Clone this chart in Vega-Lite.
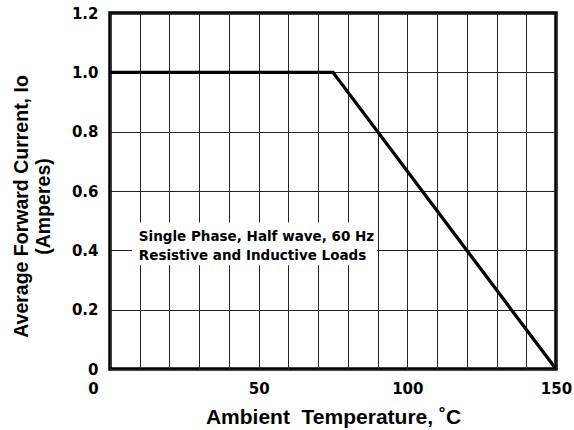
{
  "$schema": "https://vega.github.io/schema/vega-lite/v6.json",
  "width": 446,
  "height": 356,
  "autosize": {"type": "none"},
  "padding": {"left": 110, "top": 13, "right": 18, "bottom": 61},
  "background": "white",
  "config": {
    "view": {"stroke": "black", "strokeWidth": 3.5},
    "axis": {
      "grid": true,
      "gridColor": "#222",
      "gridWidth": 1,
      "domain": false,
      "ticks": false,
      "labelOverlap": false,
      "labelFont": "DejaVu Sans",
      "labelFontWeight": "bold",
      "labelFontSize": 15,
      "labelColor": "black",
      "titleFont": "Liberation Sans, Arial, sans-serif",
      "titleFontWeight": "bold",
      "titleFontSize": 20,
      "titleColor": "black"
    }
  },
  "layer": [
    {
      "data": {"values": [
        {"temp": 0, "current": 1.0},
        {"temp": 75, "current": 1.0},
        {"temp": 150, "current": 0.0}
      ]},
      "mark": {"type": "line", "color": "black", "strokeWidth": 3.3, "clip": true},
      "encoding": {
        "x": {
          "field": "temp", "type": "quantitative",
          "scale": {"domain": [0, 150], "nice": false},
          "axis": {
            "values": [0, 10, 20, 30, 40, 50, 60, 70, 80, 90, 100, 110, 120, 130, 140, 150],
            "tickCount": 30,
            "labelExpr": "datum.value % 50 == 0 ? datum.label : ''",
            "labelPadding": 12,
            "labelBaseline": "top",
            "labelFlush": false,
            "labelOffset": {"condition": {"test": "datum.value == 0", "value": -17}, "value": 0},
            "title": "Ambient\u00a0 Temperature, ˚C",
            "titleFontSize": 21,
            "titleX": 223,
            "titleY": 54,
            "titleAlign": "center",
            "titleBaseline": "alphabetic"
          }
        },
        "y": {
          "field": "current", "type": "quantitative",
          "scale": {"domain": [0, 1.2], "nice": false},
          "axis": {
            "values": [0, 0.2, 0.4, 0.6, 0.8, 1.0, 1.2],
            "tickCount": 20,
            "labelExpr": "datum.value == 0 ? '0' : format(datum.value, '.1f')",
            "labelPadding": 12,
            "labelFlush": false,
            "title": ["Average Forward Current, Io", "(Amperes)"],
            "titleFontSize": 19.5,
            "titleAngle": -90,
            "titleX": -83,
            "titleY": 193,
            "titleAlign": "center",
            "titleBaseline": "alphabetic",
            "titleLineHeight": 22
          }
        }
      }
    },
    {
      "data": {"values": [{"note": "Single Phase, Half wave, 60 Hz"}]},
      "mark": {"type": "rect", "fill": "white", "stroke": null},
      "encoding": {
        "x": {"datum": 7.4, "type": "quantitative"},
        "x2": {"datum": 89.8},
        "y": {"datum": 0.494, "type": "quantitative"},
        "y2": {"datum": 0.35}
      }
    },
    {
      "data": {"values": [{"note": "Single Phase, Half wave, 60 Hz"}]},
      "mark": {
        "type": "text",
        "text": ["Single Phase, Half wave, 60 Hz", "Resistive and Inductive Loads"],
        "font": "DejaVu Sans",
        "fontWeight": "bold",
        "fontSize": 13.5,
        "lineHeight": 19.5,
        "align": "left",
        "baseline": "alphabetic",
        "color": "black"
      },
      "encoding": {
        "x": {"datum": 9.7, "type": "quantitative"},
        "y": {"datum": 0.433, "type": "quantitative"}
      }
    }
  ]
}
